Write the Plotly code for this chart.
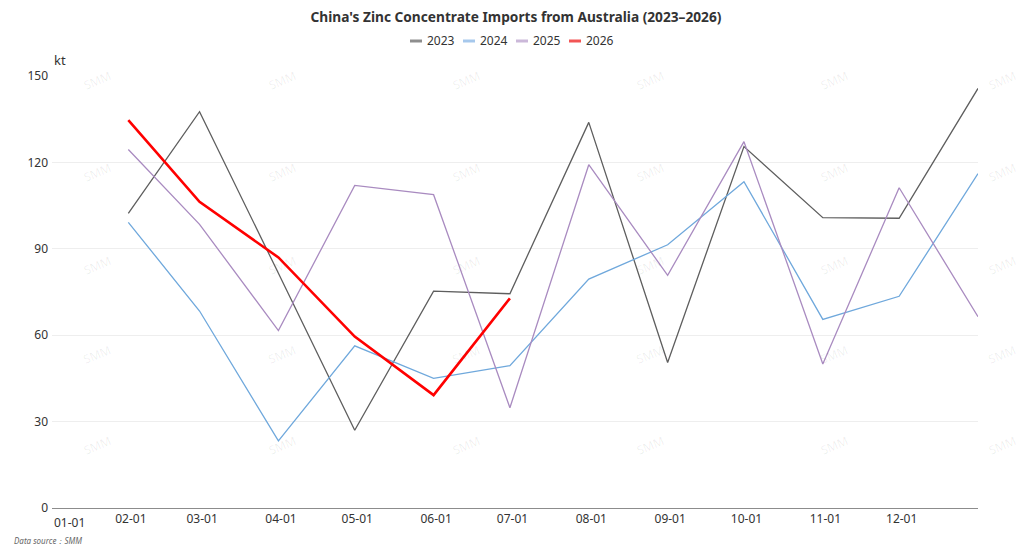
import plotly.graph_objects as go

# month-end dates on a common (non-leap) year so all years share one axis
dates = ["2023-01-31", "2023-02-28", "2023-03-31", "2023-04-30", "2023-05-31", "2023-06-30",
         "2023-07-31", "2023-08-31", "2023-09-30", "2023-10-31", "2023-11-30", "2023-12-31"]
tick_dates = ["2023-%02d-01" % m for m in range(1, 13)]
tick_labels = ["%02d-01" % m for m in range(1, 13)]

y2023 = [102.3, 137.6, 81.5, 27.0, 75.3, 74.4, 133.9, 50.5, 125.5, 100.8, 100.6, 145.7]
y2024 = [99.2, 68.4, 23.3, 56.3, 45.0, 49.4, 79.5, 91.4, 113.3, 65.5, 73.5, 116.1]
y2025 = [124.5, 98.5, 61.6, 112.0, 108.8, 34.8, 119.2, 80.8, 127.2, 50.0, 111.2, 66.4]
y2026 = [134.7, 106.3, 87.0, 59.5, 39.2, 72.8]

years = ["2023", "2024", "2025", "2026"]
series = [y2023, y2024, y2025, y2026]
colors = ["#5e5e5e", "#6fa8dc", "#a98bc0", "#ff0000"]
widths = [1.3, 1.3, 1.3, 2.6]
legend_colors = ["#8e8e8e", "#a6c8ec", "#cbb8d9", "#f25555"]

FONT = "Noto Sans"

fig = go.Figure()
for name, vals, col, w in zip(years, series, colors, widths):
    fig.add_trace(go.Scatter(x=dates[:len(vals)], y=vals, name=name, mode="lines",
                             line=dict(color=col, width=w), showlegend=False,
                             hovertemplate="%{x|%m-%d}: %{y} kt<extra>" + name + "</extra>"))

# the page body has an 8px margin, so work in page pixels and shift
OFF = 8
W, H = 1024 - OFF, 553 - OFF
L, R, T, B = 52, 978, 76, 508  # plot area in page pixels

def px(x):
    return (x - L) / (R - L)

def py(y):
    return (B - y) / (B - T)

shapes = []
annotations = []

# custom legend, short line + label
leg_x = [410, 463, 516, 569]
for i, name in enumerate(years):
    shapes.append(dict(type="line", xref="paper", yref="paper",
                       x0=px(leg_x[i]), x1=px(leg_x[i] + 12), y0=py(41), y1=py(41),
                       line=dict(color=legend_colors[i], width=3)))
    annotations.append(dict(text=name, xref="paper", yref="paper", x=px(leg_x[i] + 15), y=py(41),
                            xanchor="left", yanchor="middle", showarrow=False,
                            font=dict(family=FONT, size=12, color="#333333")))

# first tick label sits to the right of the axis start
annotations.append(dict(text=tick_labels[0], xref="paper", yref="paper", x=px(52), y=py(512),
                        xanchor="left", yanchor="top", showarrow=False,
                        font=dict(family=FONT, size=12, color="#333333")))

annotations.append(dict(text="kt", xref="paper", yref="paper", x=px(52), y=py(60),
                        xanchor="left", yanchor="middle", showarrow=False,
                        font=dict(family=FONT, size=13, color="#333333")))

annotations.append(dict(text="<i>Data source：SMM</i>", xref="paper", yref="paper", x=px(12), y=py(540),
                        xanchor="left", yanchor="middle", showarrow=False,
                        font=dict(family=FONT, size=8, color="#666666")))

# SMM watermark grid
for wy in [80, 172, 265, 355, 445]:
    for wx in [97, 282, 466, 650, 834, 1002]:
        annotations.append(dict(text="SMM", xref="paper", yref="paper", x=px(wx), y=py(wy),
                                xanchor="center", yanchor="middle", showarrow=False, textangle=-22,
                                font=dict(family=FONT, size=12, color="rgba(0,0,0,0.07)")))

fig.update_layout(
    width=W, height=H,
    margin=dict(l=L - OFF, r=1024 - R, t=T - OFF, b=553 - B),
    paper_bgcolor="white", plot_bgcolor="white",
    title=dict(text="<b>China's Zinc Concentrate Imports from Australia (2023–2026)</b>",
               x=0.5, xanchor="center", y=1 - (17 - OFF) / H, yanchor="middle",
               font=dict(family=FONT, size=13.7, color="#333333")),
    font=dict(family=FONT, size=12, color="#333333"),
    xaxis=dict(type="date", range=["2023-01-01", "2023-12-31"],
               tickvals=tick_dates, ticktext=[""] + tick_labels[1:],
               showgrid=False, zeroline=False, showline=True, linecolor="#8c8c8c", linewidth=1,
               ticks="", tickfont=dict(size=12, color="#333333")),
    yaxis=dict(range=[0, 150], tickvals=[0, 30, 60, 90, 120, 150],
               showgrid=True, gridcolor="#eeeeee", gridwidth=1, zeroline=False,
               showline=False, ticks="", ticklabelstandoff=3,
               tickfont=dict(size=12, color="#333333")),
    shapes=shapes,
    annotations=annotations,
)

fig.write_html("out.html")
